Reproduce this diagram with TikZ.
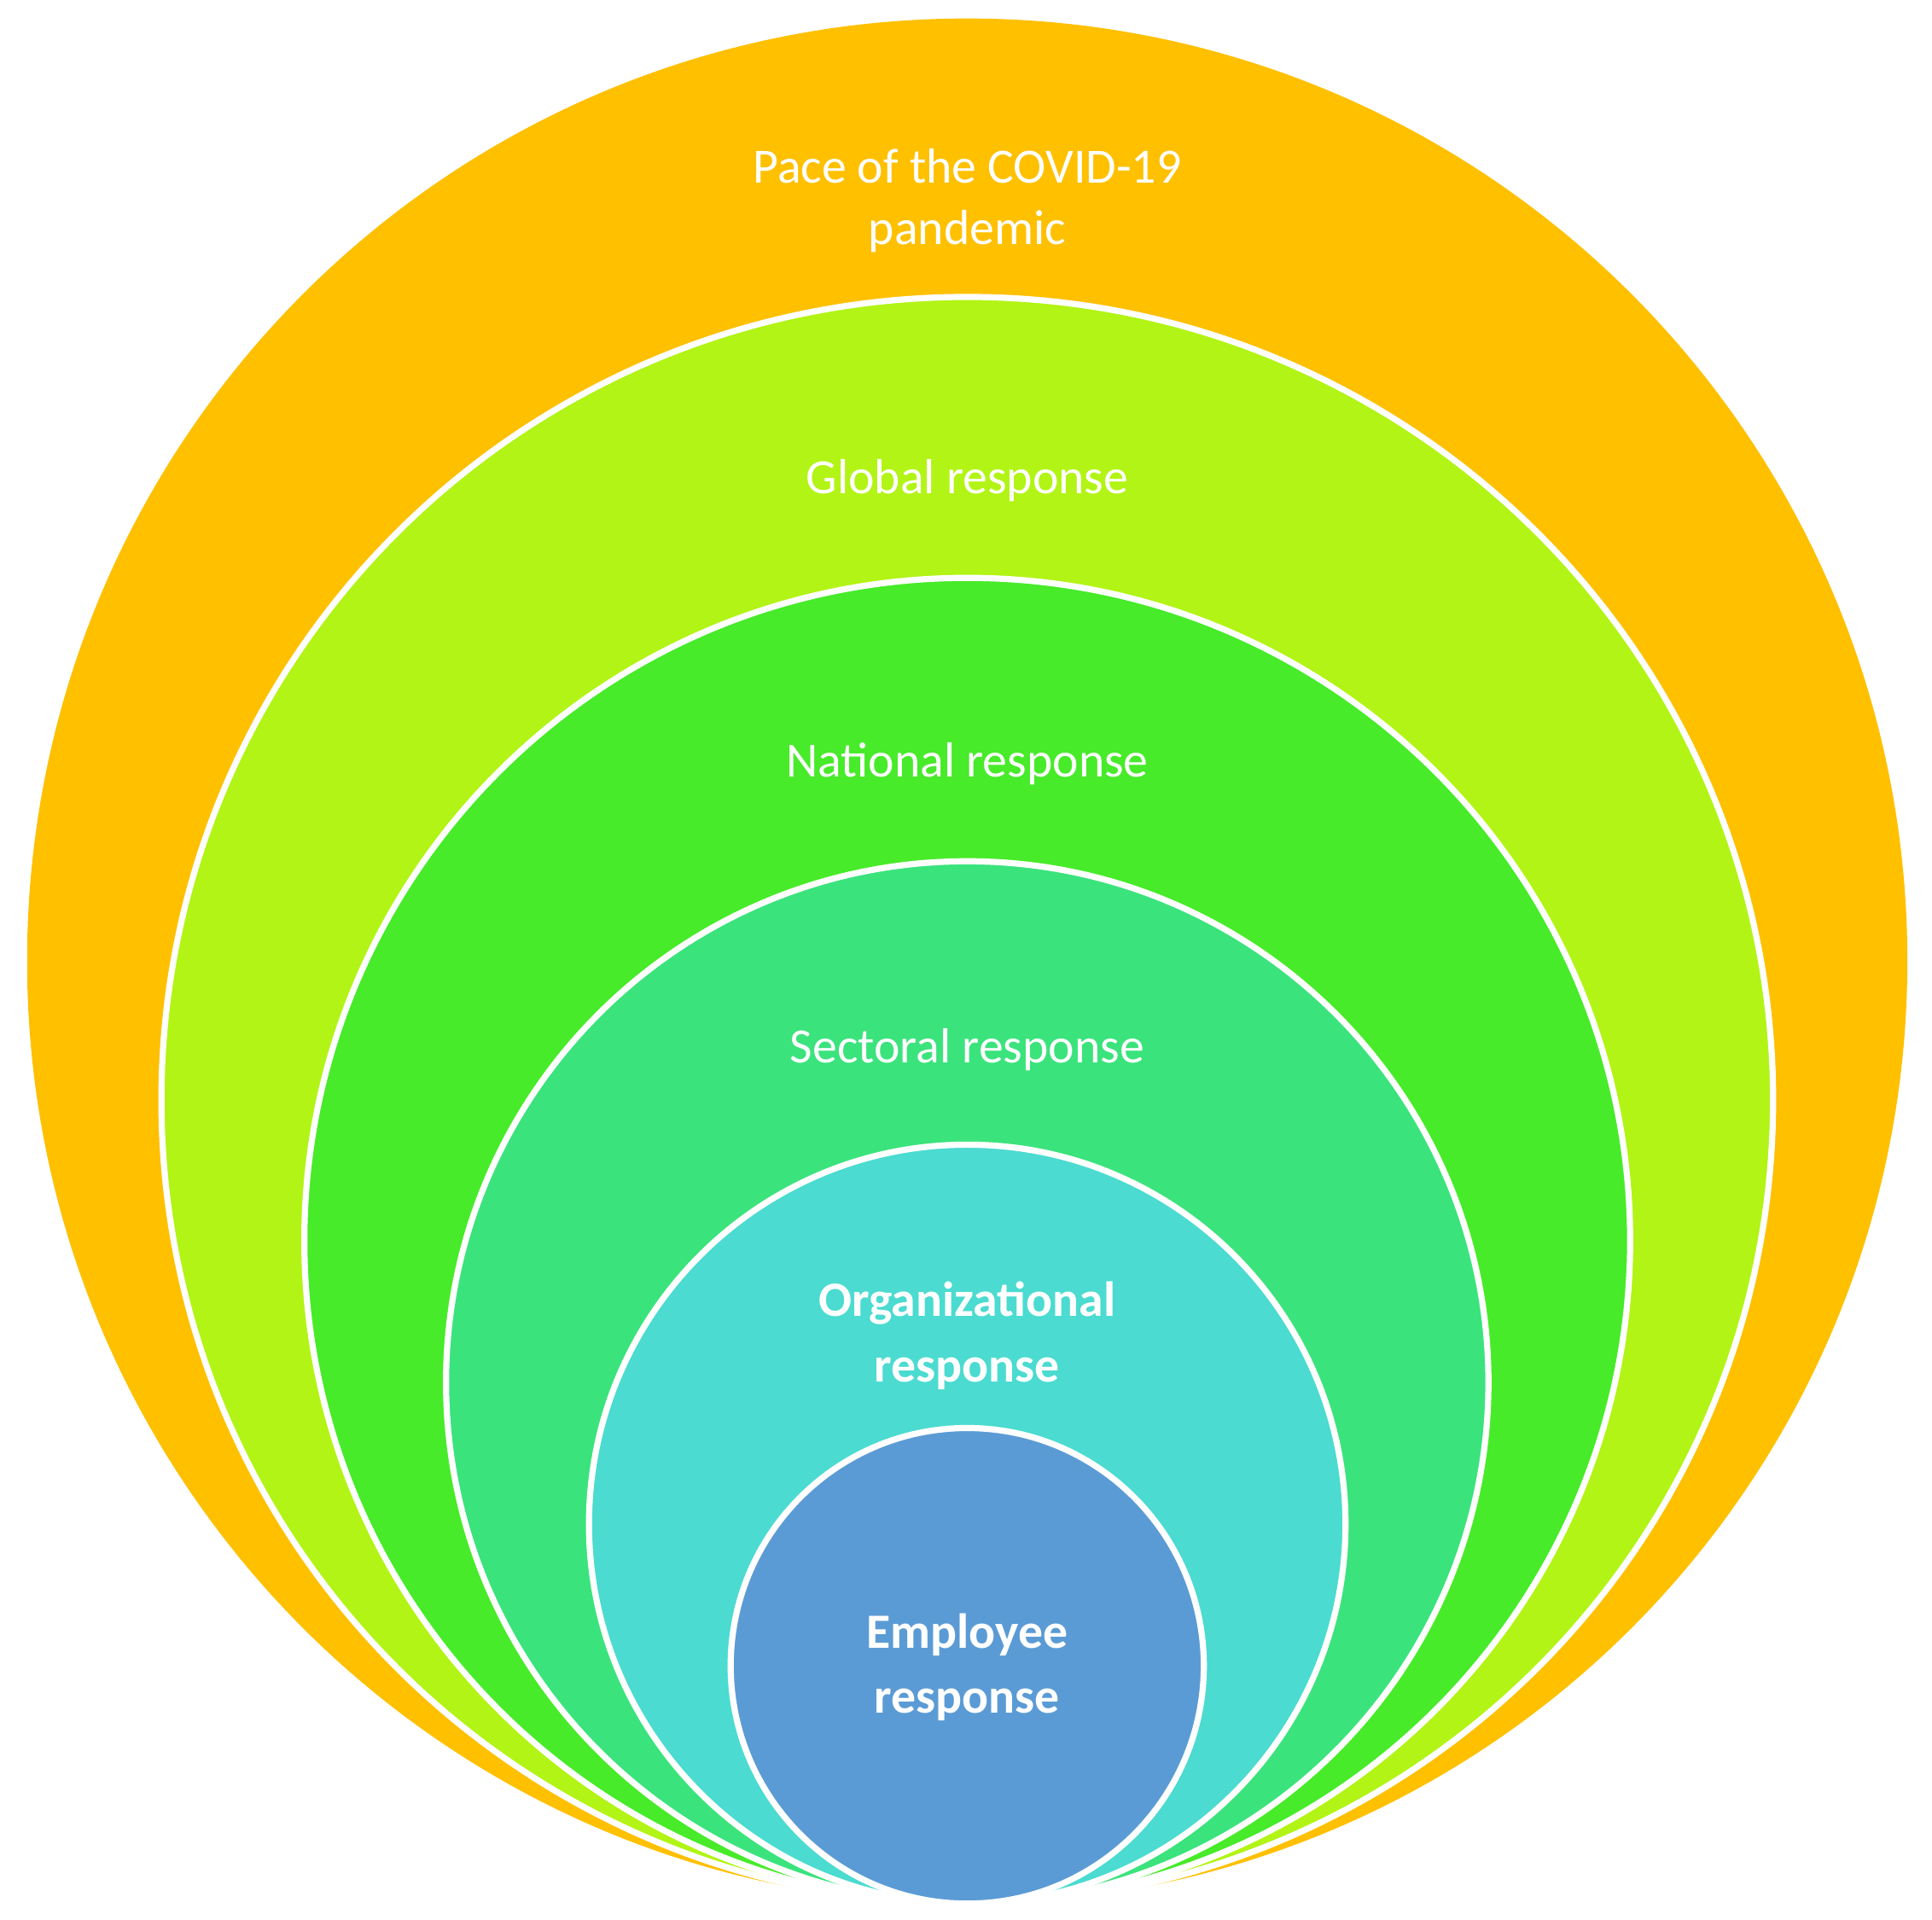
\documentclass[tikz,border=0pt]{standalone}
\usepackage{fontspec}
\setmainfont{Carlito}
\definecolor{cA}{HTML}{FFC000}
\definecolor{cB}{HTML}{B2F415}
\definecolor{cC}{HTML}{47EB29}
\definecolor{cD}{HTML}{3BE37C}
\definecolor{cE}{HTML}{4BDBD0}
\definecolor{cF}{HTML}{5B9BD5}
\begin{document}
\begin{tikzpicture}[x=1pt,y=-1pt,
  ring/.style={draw=white,line width=5pt},
  lbl/.style={text=white,font=\fontsize{40}{50}\selectfont,align=center}]
\useasboundingbox (0,0) rectangle (1568,1558);
\fill[cA] (785,780) ellipse [x radius=763,y radius=765];
\filldraw[ring,fill=cB] (785,893) ellipse [x radius=654,y radius=652];
\filldraw[ring,fill=cC] (785,1007) ellipse [x radius=538,y radius=538];
\filldraw[ring,fill=cD] (785,1122) ellipse [x radius=423,y radius=423];
\filldraw[ring,fill=cE] (785,1237) ellipse [x radius=307,y radius=308];
\filldraw[ring,fill=cF] (785,1352) ellipse [x radius=192,y radius=193];
\node[lbl] (a) at (785,163) {Pace of the COVID-19\\pandemic};
\node[lbl] (b) at (785,390) {Global response};
\node[lbl] (c) at (785,620) {National response};
\node[lbl] (d) at (785,852) {Sectoral response};
\node[lbl,font=\fontsize{40}{53}\selectfont\bfseries] (e) at (785,1084) {Organizational\\response};
\node[lbl,font=\fontsize{40}{53}\selectfont\bfseries] (f) at (785,1353) {Employee\\response};
\end{tikzpicture}
\end{document}
